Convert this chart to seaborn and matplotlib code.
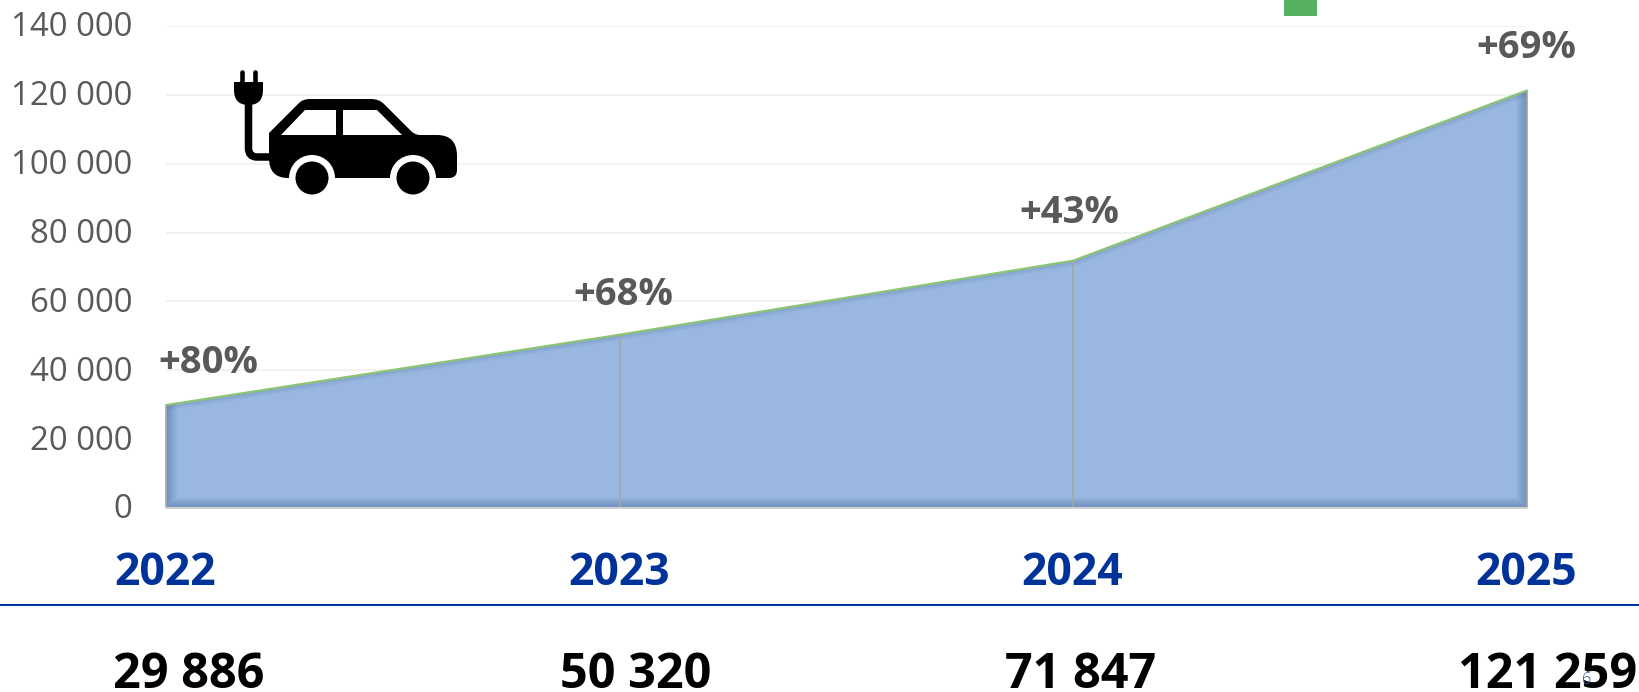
import matplotlib
matplotlib.use("Agg")
import matplotlib.pyplot as plt
import seaborn as sns
from matplotlib.patches import Circle, PathPatch, Polygon, Rectangle
from matplotlib.path import Path
from matplotlib.transforms import ScaledTranslation

# --- DATA ---
years = [2022, 2023, 2024, 2025]
sales = [29886, 50320, 71847, 121259]
growth = ["+80%", "+68%", "+43%", "+69%"]
y_ticks = [0, 20000, 40000, 60000, 80000, 100000, 120000, 140000]
sales_labels = ["29 886", "50 320", "71 847", "121 259"]
page_number = "6"

# --- STYLE ---
sns.set_theme(style="white")
plt.rcParams["font.family"] = ["Open Sans", "DejaVu Sans"]

W, H = 1640, 692
GREY = "#595959"
BLUE = "#003399"
px = 0.72  # 1 px in points at dpi 100

fig = plt.figure(figsize=(W / 100, H / 100), dpi=100, facecolor="white")
ax = fig.add_axes([166 / W, 1 - 508 / H, (1527 - 166) / W, (508 - 26) / H])

# --- AREA ---
area = ax.fill_between(years, sales, 0, color="#9AB8DF", linewidth=0, zorder=2)
clip = area.get_paths()[0]

# soft inner shadow: strong on sides and bottom, faint under the top edge
side_x = [years[-1], years[-1], years[0], years[0]]
side_y = [sales[-1], 0, 0, sales[0]]
for lw in range(2, 24, 2):
    shadow, = ax.plot(side_x, side_y, color="#2F5597", alpha=0.04, lw=lw * px, zorder=3)
    shadow.set_clip_path(clip, ax.transData)
for lw in range(2, 14, 2):
    shadow, = ax.plot(years, sales, color="#2F5597", alpha=0.035, lw=lw * px, zorder=3)
    shadow.set_clip_path(clip, ax.transData)

ax.vlines(years, 0, sales, color="#A6A6A6", lw=1.6 * px, zorder=4, clip_on=False)
sns.lineplot(x=years, y=sales, color="#8CC474", lw=2.2 * px, ax=ax, zorder=5, clip_on=False)

# --- AXES ---
ax.set_xlim(years[0], years[-1])
ax.set_ylim(0, 140000)
ax.set_yticks(y_ticks)
ax.set_yticklabels([f"{v:,}".replace(",", " ") for v in y_ticks], color=GREY, fontsize=23.8)
ax.set_xticks(years)
ax.set_xticklabels(years, color=BLUE, fontsize=32, fontweight="bold")
ax.tick_params(axis="y", length=0, pad=34 * px)
ax.tick_params(axis="x", length=0, pad=43 * px)
for lab in ax.get_yticklabels():
    lab.set_transform(lab.get_transform() + ScaledTranslation(0, 2 / 100, fig.dpi_scale_trans))
for lab in ax.get_xticklabels():
    lab.set_transform(lab.get_transform() + ScaledTranslation(-1 / 100, 0, fig.dpi_scale_trans))
ax.grid(axis="y", color="#F2F2F2", lw=2 * px, zorder=0)
ax.set_axisbelow(True)
for side in ["top", "right", "left"]:
    ax.spines[side].set_visible(False)
ax.spines["bottom"].set_color("#D0D0D0")
ax.spines["bottom"].set_linewidth(2 * px)
ax.spines["bottom"].set_zorder(6)

# --- GROWTH LABELS ---
label_dx = [42, 4, -4, -1]
label_dy = [42, 40, 48, 43]
for yr, val, txt, dx, dy in zip(years, sales, growth, label_dx, label_dy):
    ax.annotate(txt, (yr, val), xytext=(dx * px, dy * px), textcoords="offset points",
                ha="center", va="center", color=GREY, fontsize=27.5, fontweight="bold",
                annotation_clip=False, zorder=7)

# --- OVERLAY IN PIXEL COORDS (rule, totals, icon) ---
ov = fig.add_axes([0, 0, 1, 1], facecolor="none")
ov.set_xlim(0, W)
ov.set_ylim(H, 0)
ov.axis("off")

ov.plot([0, W], [605, 605], color=BLUE, lw=2 * px)

total_x = [189, 636, 1081, 1548]
for x, txt in zip(total_x, sales_labels):
    ov.text(x, 676, txt, ha="center", va="center", color="black", fontsize=35, fontweight="bold")

ov.add_patch(Rectangle((1284, 0), 33, 16, color="#55B060", lw=0))
ov.text(1587, 680, page_number, ha="center", va="center", color="#2F4FA8", fontsize=12, fontweight="light", zorder=8)

# car body with rounded corners
M, L, C = Path.MOVETO, Path.LINETO, Path.CURVE3
body = [
    ((269, 137), M), ((269, 133), L), ((299, 103), L), ((303, 99), C), ((310, 99), C),
    ((371, 99), L), ((379, 99), C), ((384, 104), C), ((411, 131), L), ((415, 135), C),
    ((420, 135), C), ((437, 135), L), ((457, 135), C), ((457, 156), C), ((457, 170), L),
    ((457, 178), C), ((449, 178), C), ((288, 178), L), ((269, 178), C), ((269, 158), C),
    ((269, 137), L),
]
ov.add_patch(PathPatch(Path([b[0] for b in body], [b[1] for b in body]), fc="black", ec="none", zorder=3))
ov.add_patch(Polygon([(281, 135), (305, 110), (336, 110), (336, 135)], fc="white", ec="none", zorder=4))
ov.add_patch(Polygon([(343, 135), (343, 110), (377, 110), (402, 135)], fc="white", ec="none", zorder=4))
for cx in [312, 413]:
    ov.add_patch(Circle((cx, 178), 23, fc="white", ec="none", zorder=4))
    ov.add_patch(Circle((cx, 178), 16.5, fc="black", ec="none", zorder=5))

# plug and cord
cord = [((248.5, 100), M), ((248.5, 148), L), ((248.5, 157), C), ((257, 157), C), ((272, 157), L)]
ov.add_patch(PathPatch(Path([c[0] for c in cord], [c[1] for c in cord]), fc="none", ec="black",
                       lw=7.5 * px, zorder=3))
head = [
    ((234, 82), M), ((263, 82), L), ((263, 90), L), ((263, 105), C), ((248.5, 105), C),
    ((234, 105), C), ((234, 90), C), ((234, 82), L),
]
ov.add_patch(PathPatch(Path([h[0] for h in head], [h[1] for h in head]), fc="black", ec="none", zorder=3))
ov.plot([242, 242], [72, 83], color="black", lw=4.6 * px, solid_capstyle="round", zorder=3)
ov.plot([255, 255], [72, 83], color="black", lw=4.6 * px, solid_capstyle="round", zorder=3)

plt.savefig("out.png", dpi=100)
plt.close()
